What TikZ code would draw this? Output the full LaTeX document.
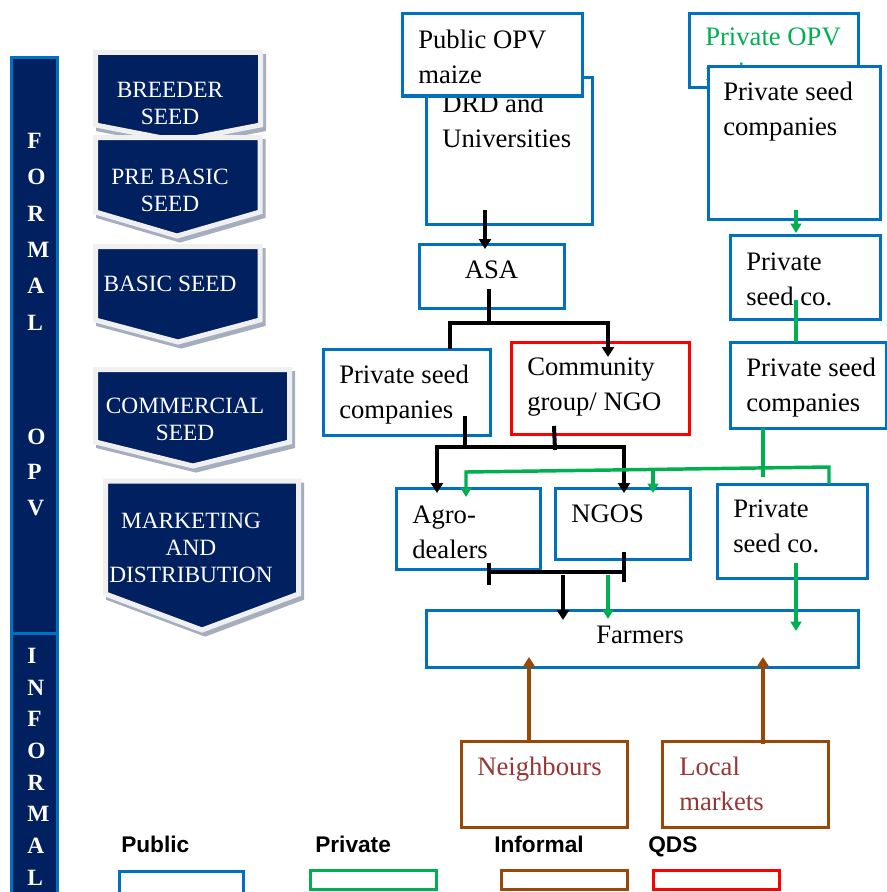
\documentclass[tikz,border=0pt]{standalone}
\usepackage{fontspec}
\setmainfont{Liberation Serif}
\newfontfamily\legfont{Liberation Sans}
\usetikzlibrary{arrows.meta,fit}
\definecolor{navy}{RGB}{0,32,96}
\definecolor{pubblue}{RGB}{0,112,192}
\definecolor{privgreen}{RGB}{0,176,80}
\definecolor{infbrown}{RGB}{152,72,7}
\definecolor{neightext}{RGB}{149,55,53}
\definecolor{framec}{RGB}{240,240,240}
\definecolor{shadowc}{RGB}{165,174,190}
\newcommand\fs{\rule{0pt}{15pt}}
\newcommand\chev[6]{%
  \begin{scope}[shift={(3,4)}]
    \filldraw[fill=shadowc,draw=shadowc,line width=3.75pt,line join=miter]
      (#1,#3) -- (#2,#3) -- (#2,#4) -- (#6,#5) -- (#1,#4) -- cycle;
  \end{scope}
  \filldraw[fill=navy,draw=framec,line width=3.75pt,line join=miter]
      (#1,#3) -- (#2,#3) -- (#2,#4) -- (#6,#5) -- (#1,#4) -- cycle;
}
\begin{document}
\begin{tikzpicture}[x=0.75pt,y=-0.75pt,
  box/.style={draw=#1,line width=2.25pt,fill=white,inner sep=0pt},
  t20/.style={font=\fontsize{20}{26.6}\selectfont,inner sep=0pt,align=left,anchor=north west},
  ctxt/.style={font=\fontsize{17.5}{20.5}\selectfont,text=white,inner sep=0pt,align=center,anchor=north},
  bartxt/.style={font=\fontsize{17.5}{#1}\selectfont\bfseries,text=white,inner sep=0pt,align=left,anchor=north west},
  leg/.style={font=\legfont\bfseries\fontsize{17}{20}\selectfont,inner sep=0pt,anchor=base west},
  blk/.style={black,line width=3pt,line join=miter},
  grn/.style={privgreen,line width=2.6pt,line join=miter},
  brn/.style={infbrown,line width=3pt},
  tipb/.style={-{Triangle[width=9pt,length=7.5pt]}},
  tipg/.style={-{Triangle[width=8pt,length=7pt]}}
]
\useasboundingbox (0,0) rectangle (887,892);
\fill[white] (0,0) rectangle (887,892);

% left bar
\filldraw[fill=navy,draw=pubblue,line width=2.25pt] (11.5,57.5) rectangle (57,905);
\draw[pubblue,line width=2.25pt] (11.5,633) -- (57,633);
\node[bartxt=27.3pt] (formalT) at (27,128) {\fs F\\O\\R\\M\\A\\L};
\node[bartxt=26.6pt] (opvT) at (27,424) {\fs O\\P\\V};
\node[bartxt=23.8pt] (informalT) at (27,643) {\fs I\\N\\F\\O\\R\\M\\A\\L};

% chevrons
\chev{95.5}{260.5}{52.5}{125}{141}{178}
\node[ctxt] (breT) at (170,77) {\fs BREEDER\\SEED};
\chev{95.5}{260}{137.5}{212}{236}{177}
\node[ctxt] (preT) at (170,164) {\fs PRE BASIC\\SEED};
\chev{95.5}{260}{246.5}{320}{342}{178}
\node[ctxt] (basT) at (170,271) {\fs BASIC SEED};
\chev{95.5}{289.5}{369.5}{442}{466}{193}
\node[ctxt] (comT) at (185,393) {\fs COMMERCIAL\\SEED};
\chev{105.5}{298.5}{481}{594}{630}{202}
\node[ctxt] (mktT) at (191,508) {\fs MARKETING\\AND\\DISTRIBUTION};

% boxes
\node[box=pubblue,fit={(426,78)(592,224)}] (drd) {};
\node[t20] (drdT) at (442,92) {\fs DRD and\\Universities};
\node[box=pubblue,fit={(402,14)(582,96)}] (pub) {};
\node[t20] (pubT) at (418,28) {\fs Public OPV\\maize};
\node[box=pubblue,fit={(689,14)(858,88)}] (popv) {};
\node[t20,text=privgreen] (popvT) at (705,25) {\fs Private OPV\\maize};
\node[box=pubblue,fit={(708,67)(880,219)}] (psc1) {};
\node[t20] (psc1T) at (723,80) {\fs Private seed\\companies};
\node[box=pubblue,fit={(419,244)(564,308)}] (asa) {};
\node[t20,anchor=base] (asaT) at (491.5,278) {ASA};
\node[box=pubblue,fit={(730,235)(880,319)}] (psco1) {};
\node[t20] (psco1T) at (746,250) {\fs Private\\seed co.};
\node[box=pubblue,fit={(323,349)(490,435)}] (psc2) {};
\node[t20] (psc2T) at (339,363) {\fs Private seed\\companies};
\node[box=red,fit={(511,342)(689,434)}] (comm) {};
\node[t20] (commT) at (527,355) {\fs Community\\group/ NGO};
\node[box=pubblue,fit={(730,342)(886,428)}] (psc3) {};
\node[t20] (psc3T) at (746,356) {\fs Private seed\\companies};
\node[box=pubblue,fit={(396,488)(540,569)}] (agro) {};
\node[t20] (agroT) at (412,503) {\fs Agro-\\dealers};
\node[box=pubblue,fit={(555,488)(690,559)}] (ngos) {};
\node[t20,anchor=base west] (ngosT) at (571,522) {NGOS};
\node[box=pubblue,fit={(717,484)(867,578)}] (psco2) {};
\node[t20] (psco2T) at (733,497) {\fs Private\\seed co.};
\node[box=pubblue,fit={(426,610)(858,667)}] (farm) {};
\node[t20,anchor=base] (farmT) at (640,643) {Farmers};
\node[box=infbrown,fit={(461,741)(627,827)}] (neigh) {};
\node[t20,anchor=base west,text=neightext] (neighT) at (477,775) {Neighbours};
\node[box=infbrown,fit={(662,741)(828,827)}] (local) {};
\node[t20,text=neightext] (localT) at (679,755) {\fs Local\\markets};

% legend
\node[leg] (legPub) at (121,852) {Public};
\node[leg] (legPriv) at (315,852) {Private};
\node[leg] (legInf) at (494,852) {Informal};
\node[leg] (legQds) at (648,852) {QDS};
\node[box=pubblue,fit={(119,871)(243,905)}] (legPubB) {};
\node[box=privgreen,fit={(310,870)(436,889)}] (legPrivB) {};
\node[box=infbrown,fit={(501,870)(627,889)}] (legInfB) {};
\node[box=red,fit={(653,870)(779,889)}] (legQdsB) {};

% black connectors
\draw[blk,tipb] (485,210) -- (485,249);
\draw[blk] (489,289) -- (489,323);
\draw[blk,tipb] (450,349) |- (608,323) -- (608,357);
\draw[blk] (465,416) -- (465,447);
\draw[blk] (554,426) -- (555,450);
\draw[blk,{Triangle[width=9pt,length=7.5pt]}-{Triangle[width=9pt,length=7.5pt]}] (437,493) |- (624,447) -- (624,493);
\draw[blk] (489,563) -- (489,585);
\draw[blk] (624,552) -- (624,582);
\draw[blk] (489,572) -- (624,572);
\draw[blk,tipb] (563,575) -- (563,620);

% green connectors
\draw[grn,tipg] (796,210) -- (796,233);
\draw[grn] (796,300) -- (796,342);
\draw[grn] (763,428) -- (763,477);
\draw[grn,{Triangle[width=8pt,length=7pt]}-] (466,497) -- (466,472) -- (829,467) -- (829,484);
\draw[grn,tipg] (653,469) -- (653,493);
\draw[grn,tipg] (608,575) -- (608,619);
\draw[grn,tipg] (796,563) -- (796,631);

% brown connectors
\draw[brn,tipb] (529,741) -- (529,657);
\draw[brn,tipb] (763,744) -- (763,657);
\end{tikzpicture}
\end{document}
